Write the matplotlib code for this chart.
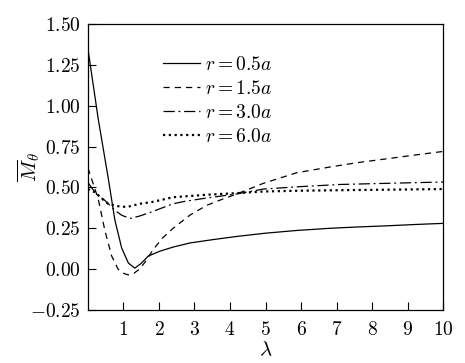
import matplotlib
matplotlib.use("Agg")
import matplotlib.pyplot as plt

plt.rcParams['mathtext.fontset'] = 'cm'
plt.rcParams['font.family'] = 'serif'
plt.rcParams['font.serif'] = ['cmr10', 'DejaVu Serif']
plt.rcParams['axes.formatter.use_mathtext'] = True

# r = 0.5a
lam_a = [0.0, 0.29, 0.57, 0.76, 0.95, 1.14, 1.32, 1.5, 1.7, 2.03, 2.4, 2.87, 3.5, 4.19, 5.0, 5.9, 6.82, 7.6, 8.41, 9.2, 10.0]
val_a = [1.35, 0.92, 0.56, 0.30, 0.13, 0.037, 0.006, 0.035, 0.08, 0.11, 0.135, 0.16, 0.18, 0.20, 0.22, 0.237, 0.25, 0.258, 0.265, 0.273, 0.28]
# r = 1.5a
lam_b = [0.0, 0.29, 0.48, 0.67, 0.85, 1.0, 1.13, 1.3, 1.45, 1.6, 1.84, 2.1, 2.4, 2.87, 3.34, 3.81, 4.19, 4.94, 5.88, 6.82, 7.6, 8.41, 9.2, 10.0]
val_b = [0.62, 0.43, 0.235, 0.08, 0.0, -0.025, -0.035, -0.025, 0.0, 0.04, 0.12, 0.19, 0.25, 0.33, 0.39, 0.43, 0.46, 0.525, 0.59, 0.625, 0.652, 0.675, 0.698, 0.72]
# r = 3.0a
lam_c = [0.0, 0.2, 0.48, 0.76, 0.95, 1.18, 1.46, 1.79, 2.4, 2.73, 3.34, 4.19, 4.94, 6.0, 7.1, 8.41, 10.0]
val_c = [0.53, 0.47, 0.42, 0.36, 0.33, 0.31, 0.325, 0.35, 0.40, 0.415, 0.435, 0.46, 0.49, 0.505, 0.518, 0.525, 0.533]
# r = 6.0a
lam_d = [0.0, 0.2, 0.4, 0.57, 0.85, 1.1, 1.46, 1.79, 2.4, 3.34, 4.19, 4.94, 6.0, 7.1, 8.41, 10.0]
val_d = [0.49, 0.47, 0.43, 0.40, 0.385, 0.38, 0.40, 0.41, 0.44, 0.455, 0.465, 0.475, 0.48, 0.483, 0.486, 0.49]

labels = [r'$r=0.5a$', r'$r=1.5a$', r'$r=3.0a$', r'$r=6.0a$']
xticks = [1, 2, 3, 4, 5, 6, 7, 8, 9, 10]
yticks = [-0.25, 0.0, 0.25, 0.5, 0.75, 1.0, 1.25, 1.5]

fig = plt.figure(figsize=(4.65, 3.63), dpi=100)
ax = fig.add_axes([0.189, 0.146, 0.764, 0.788])

ax.plot(lam_a, val_a, color='black', lw=0.9, linestyle='-', label=labels[0])
ax.plot(lam_b, val_b, color='black', lw=0.9, linestyle=(0, (5, 4)), label=labels[1])
ax.plot(lam_c, val_c, color='black', lw=0.9, linestyle=(0, (9, 3, 1.5, 3)), label=labels[2])
ax.plot(lam_d, val_d, color='black', lw=1.6, linestyle=(0, (1, 1.6)), label=labels[3])

ax.set_xlim(0, 10)
ax.set_ylim(-0.25, 1.5)
ax.set_xticks(xticks)
ax.set_xticklabels([f'${t}$' for t in xticks])
ax.set_yticks(yticks)
ax.set_yticklabels([f'${t:.2f}$' for t in yticks])
ax.tick_params(direction='in', length=6, width=0.8, labelsize=14, top=False, right=False)
ax.tick_params(axis='x', pad=8)
ax.tick_params(axis='y', pad=5)
for s in ax.spines.values():
    s.set_linewidth(0.9)

ax.set_xlabel(r'$\lambda$', fontsize=15)
ax.set_ylabel(r'$\overline{M}_\theta$', fontsize=15)
ax.xaxis.set_label_coords(0.5, -0.108)
ax.yaxis.set_label_coords(-0.128, 0.5)

leg = ax.legend(loc='upper left', bbox_to_anchor=(0.19, 0.915), frameon=False,
                fontsize=14, handlelength=1.9, handletextpad=0.25, labelspacing=0.3,
                borderaxespad=0)

fig.savefig('out.png', dpi=100)
